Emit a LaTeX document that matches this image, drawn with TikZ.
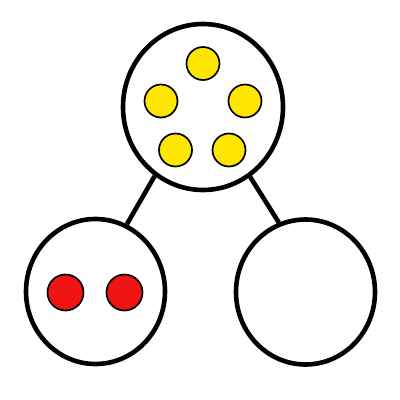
\documentclass[tikz,border=0pt]{standalone}
\usetikzlibrary{shapes.geometric}
\definecolor{dotyellow}{RGB}{255,230,0}
\definecolor{dotred}{RGB}{240,20,20}
\tikzset{
  bigc/.style={ellipse,draw=black,line width=4.6pt,fill=white,inner sep=0pt},
  topc/.style={bigc,minimum width=160pt,minimum height=166pt},
  lowc/.style={bigc,minimum width=139pt,minimum height=145pt},
  ydot/.style={circle,draw=black,line width=1.7pt,fill=dotyellow,inner sep=0pt,minimum size=33pt},
  rdot/.style={circle,draw=black,line width=1.7pt,fill=dotred,inner sep=0pt,minimum size=36pt},
  link/.style={line width=4.6pt}
}
\begin{document}
\begin{tikzpicture}[x=1pt,y=-1pt]
\useasboundingbox (0,0) rectangle (400,400);
\node[topc] (top) at (203,107) {};
\node[lowc] (bl) at (95.5,291.5) {};
\node[lowc] (br) at (305.5,292) {};
\draw[link] (top.235.9) -- (bl.65.3);
\draw[link] (top.304.6) -- (br.111.3);
\node[ydot] (y1) at (203,63.5) {};
\node[ydot] (y2) at (161,101) {};
\node[ydot] (y3) at (245,101) {};
\node[ydot] (y4) at (175.5,150) {};
\node[ydot] (y5) at (229,150) {};
\node[rdot] (r1) at (65.5,292.5) {};
\node[rdot] (r2) at (124.5,292.5) {};
\end{tikzpicture}
\end{document}
